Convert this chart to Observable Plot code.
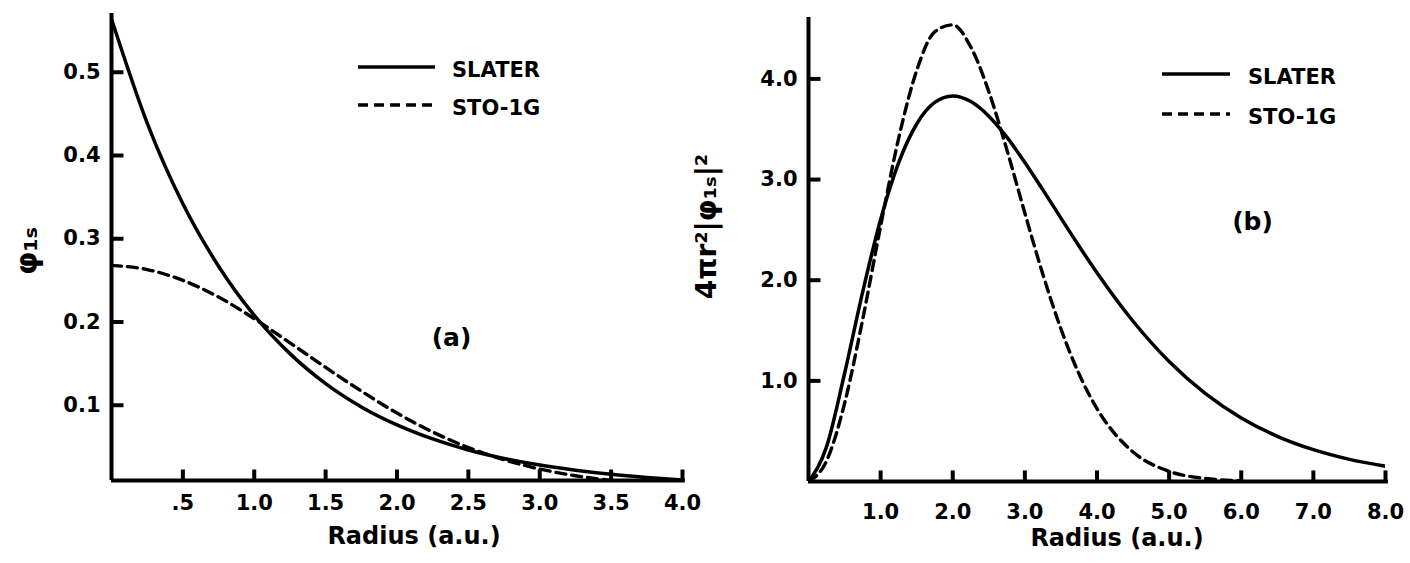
<!DOCTYPE html>
<html><head><meta charset="utf-8">
<script src="https://cdn.jsdelivr.net/npm/d3@7"></script>
<script src="https://cdn.jsdelivr.net/npm/@observablehq/plot@0.6"></script>
<style>
html,body{margin:0;padding:0;background:#fff;}
body{width:1410px;height:563px;overflow:hidden;position:relative;font-family:"DejaVu Sans",sans-serif;}
.p{position:absolute;top:0;}
#legend{position:absolute;left:0;top:0;}
</style></head><body>
<div id="a" class="p" style="left:0px"></div>
<div id="b" class="p" style="left:700px"></div>
<svg id="legend" width="1410" height="563"></svg>
<script>
// ---- Panel (a): phi_1s vs radius ----
const radiusA = [0, 0.25, 0.5, 0.75, 1.0, 1.25, 1.5, 1.75, 2.0, 2.25, 2.5, 2.75, 3.0, 3.25, 3.5, 3.75, 4.0];
const slaterA = [0.564, 0.439, 0.342, 0.267, 0.208, 0.162, 0.126, 0.098, 0.0764, 0.0595, 0.0463, 0.0361, 0.0281, 0.0219, 0.0170, 0.0133, 0.0103];
const sto1gA  = [0.268, 0.263, 0.250, 0.230, 0.204, 0.175, 0.1455, 0.117, 0.0906, 0.0679, 0.0492, 0.0345, 0.0234, 0.0153, 0.0097, 0.0059, 0.0035];
const xTicksA = [0.5, 1.0, 1.5, 2.0, 2.5, 3.0, 3.5, 4.0];
const xTickLabelsA = [".5", "1.0", "1.5", "2.0", "2.5", "3.0", "3.5", "4.0"];
const yTicksA = [0.1, 0.2, 0.3, 0.4, 0.5];
const yTickLabelsA = ["0.1", "0.2", "0.3", "0.4", "0.5"];

// ---- Panel (b): 4 pi r^2 |phi_1s|^2 vs radius ----
const radiusB = [0, 0.25, 0.5, 0.75, 1.0, 1.25, 1.5, 1.75, 2.0, 2.25, 2.5, 2.75, 3.0, 3.25, 3.5, 3.75, 4.0, 4.5, 5.0, 5.5, 6.0, 6.5, 7.0, 7.5, 8.0];
const slaterB = [0, 0.344, 1.073, 1.880, 2.603, 3.167, 3.552, 3.766, 3.830, 3.775, 3.630, 3.421, 3.170, 2.897, 2.617, 2.340, 2.074, 1.592, 1.192, 0.875, 0.631, 0.449, 0.316, 0.220, 0.152];
const radiusBg = [0, 0.25, 0.5, 0.75, 1.0, 1.25, 1.5, 1.75, 2.0, 2.25, 2.5, 2.75, 3.0, 3.25, 3.5, 3.75, 4.0, 4.5, 5.0, 5.5, 6.0];
const sto1gB  = [0, 0.204, 0.776, 1.606, 2.538, 3.410, 4.083, 4.468, 4.537, 4.317, 3.874, 3.296, 2.666, 2.057, 1.516, 1.070, 0.724, 0.293, 0.101, 0.030, 0.008];
const xTicksB = [1, 2, 3, 4, 5, 6, 7, 8];
const xTickLabelsB = ["1.0", "2.0", "3.0", "4.0", "5.0", "6.0", "7.0", "8.0"];
const yTicksB = [1, 2, 3, 4];
const yTickLabelsB = ["1.0", "2.0", "3.0", "4.0"];

const seriesNames = ["SLATER", "STO-1G"];

const rows = (xs, ys) => xs.map((x, i) => ({r: x, v: ys[i]}));
const fontStyle = {fontFamily: "'DejaVu Sans', sans-serif", fontWeight: "bold", fontSize: "21px", color: "#000", background: "transparent", overflow: "visible"};

// Panel (a)
const yMinA = 0.0096, yMaxA = 0.5706;
const tickLenAx = 0.0132, tickLenAy = 0.084;
const plotA = Plot.plot({
  width: 700, height: 563,
  marginLeft: 111, marginRight: 18, marginTop: 13, marginBottom: 83,
  x: {domain: [0, 4]},
  y: {domain: [yMinA, yMaxA]},
  style: fontStyle,
  marks: [
    Plot.axisX({ticks: xTicksA, tickFormat: d => xTickLabelsA[xTicksA.indexOf(d)], tickSize: 0, tickPadding: 15, label: null}),
    Plot.axisY({ticks: yTicksA, tickFormat: d => yTickLabelsA[yTicksA.indexOf(d)], tickSize: 0, tickPadding: 11, label: null}),
    Plot.link(xTicksA, {x1: d => d, x2: d => d, y1: () => yMinA, y2: () => yMinA + tickLenAx, stroke: "black", strokeWidth: 4}),
    Plot.link(yTicksA, {y1: d => d, y2: d => d, x1: () => 0, x2: () => tickLenAy, stroke: "black", strokeWidth: 4}),
    Plot.ruleX([0], {x: () => 0, y1: () => yMinA, y2: () => yMaxA, stroke: "black", strokeWidth: 4}),
    Plot.ruleY([yMinA], {y: () => yMinA, x1: () => 0, x2: () => 4.02, stroke: "black", strokeWidth: 4}),
    Plot.line(rows(radiusA, slaterA), {x: "r", y: "v", stroke: "black", strokeWidth: 3.5, curve: "monotone-x", clip: true}),
    Plot.line(rows(radiusA, sto1gA), {x: "r", y: "v", stroke: "black", strokeWidth: 3.4, strokeDasharray: "10,6", curve: "monotone-x", clip: true}),
    Plot.text(["Radius (a.u.)"], {text: d => d, frameAnchor: "bottom", textAnchor: "middle", dx: 17, dy: 63, fontSize: 24, fontWeight: "bold"}),
    Plot.text(["φ₁ₛ"], {text: d => d, frameAnchor: "left", textAnchor: "middle", rotate: -90, dx: -84, dy: 4, fontSize: 30, fontWeight: "bold"}),
    Plot.text(["(a)"], {text: d => d, frameAnchor: "top-left", textAnchor: "middle", dx: 340, dy: 315, fontSize: 25, fontWeight: "bold"})
  ]
});
document.getElementById("a").appendChild(plotA);

// Panel (b)
const yMinB = 0, yMaxB = 4.61;
const tickLenBx = 0.11, tickLenBy = 0.166;
const plotB = Plot.plot({
  width: 710, height: 563,
  marginLeft: 108, marginRight: 25, marginTop: 17, marginBottom: 82,
  x: {domain: [0, 8]},
  y: {domain: [yMinB, yMaxB]},
  style: fontStyle,
  marks: [
    Plot.axisX({ticks: xTicksB, tickFormat: d => xTickLabelsB[xTicksB.indexOf(d)], tickSize: 0, tickPadding: 23, label: null}),
    Plot.axisY({ticks: yTicksB, tickFormat: d => yTickLabelsB[yTicksB.indexOf(d)], tickSize: 0, tickPadding: 11, label: null}),
    Plot.link(xTicksB, {x1: d => d, x2: d => d, y1: () => yMinB, y2: () => yMinB + tickLenBx, stroke: "black", strokeWidth: 4}),
    Plot.link(yTicksB, {y1: d => d, y2: d => d, x1: () => 0, x2: () => tickLenBy, stroke: "black", strokeWidth: 4}),
    Plot.ruleX([0], {x: () => 0, y1: () => yMinB, y2: () => yMaxB, stroke: "black", strokeWidth: 4}),
    Plot.ruleY([yMinB], {y: () => yMinB, x1: () => 0, x2: () => 8.04, stroke: "black", strokeWidth: 4}),
    Plot.line(rows(radiusB, slaterB), {x: "r", y: "v", stroke: "black", strokeWidth: 3.5, curve: "monotone-x", clip: true}),
    Plot.line(rows(radiusBg, sto1gB), {x: "r", y: "v", stroke: "black", strokeWidth: 3.4, strokeDasharray: "10,6", curve: "monotone-x", clip: true}),
    Plot.text(["Radius (a.u.)"], {text: d => d, frameAnchor: "bottom", textAnchor: "middle", dx: 20, dy: 64, fontSize: 24, fontWeight: "bold"}),
    Plot.text(["4πr²|φ₁ₛ|²"], {text: d => d, frameAnchor: "left", textAnchor: "middle", rotate: -90, dx: -101, dy: -23, fontSize: 28, fontWeight: "bold"}),
    Plot.text(["(b)"], {text: d => d, frameAnchor: "top-left", textAnchor: "middle", dx: 444, dy: 195, fontSize: 25, fontWeight: "bold"})
  ]
});
document.getElementById("b").appendChild(plotB);

// Legends (overlay)
const legendSvg = d3.select("#legend");
function legend(x0, x1, xText, ys) {
  seriesNames.forEach((name, i) => {
    legendSvg.append("line")
      .attr("x1", x0).attr("x2", x1).attr("y1", ys[i]).attr("y2", ys[i])
      .attr("stroke", "black").attr("stroke-width", i === 0 ? 3.5 : 3.4)
      .attr("stroke-dasharray", i === 0 ? null : "10,6");
    legendSvg.append("text")
      .attr("x", xText).attr("y", ys[i] + 3)
      .attr("dominant-baseline", "central")
      .attr("font-family", "'DejaVu Sans', sans-serif")
      .attr("font-weight", "bold").attr("font-size", 21)
      .text(name);
  });
}
legend(358, 435, 452, [67, 105]);
legend(1162, 1230, 1248, [74, 114]);
</script>
</body></html>
